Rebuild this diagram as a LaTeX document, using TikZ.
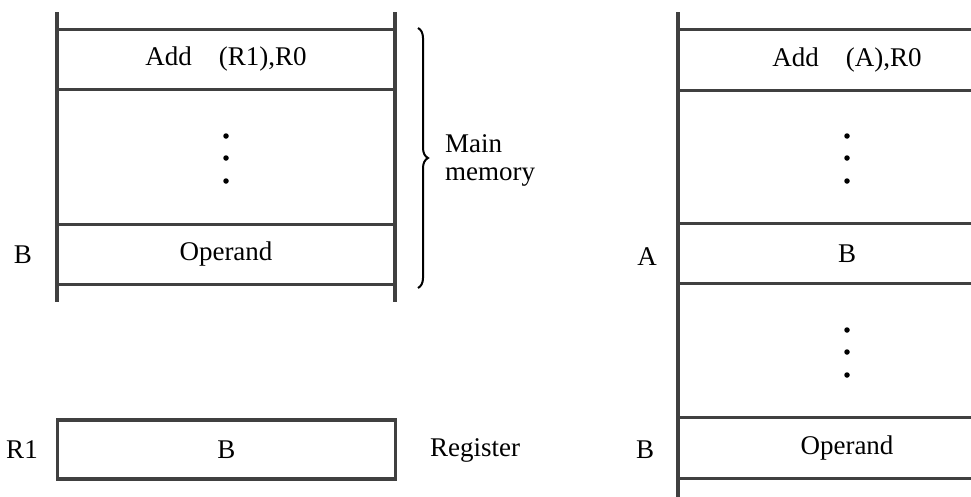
\documentclass[tikz,border=0pt]{standalone}
\usepackage{fontspec}
\setmainfont{Liberation Serif}
\usetikzlibrary{positioning, decorations.pathreplacing}

\begin{document}
\begin{tikzpicture}[x=1pt, y=-1pt,
    wall/.style={line width=3.2pt, black!75},
    cell/.style={minimum width=338pt, inner sep=0pt,
                 font=\fontsize{27}{30}\selectfont},
    lbl/.style={font=\fontsize{27}{28}\selectfont, inner sep=0pt},
    dot/.style={circle, fill=black, inner sep=0pt, minimum size=5.5pt}
  ]
    \useasboundingbox (0,0) rectangle (971,496);

    % Left memory (through register R1)
    \node[cell, minimum height=59pt]  (linstr) at (226,59.5)  {Add\quad (R1),R0};
    \node[cell, minimum height=136pt] (lgap)   at (226,157)   {};
    \node[cell, minimum height=59pt]  (lopnd)  at (226,254.5) {Operand};
    \draw[wall] (57,12) -- (57,302);
    \draw[wall] (395,12) -- (395,302);
    \draw[wall] (linstr.north west) -- (linstr.north east);
    \draw[wall] (linstr.south west) -- (linstr.south east);
    \draw[wall] (lopnd.north west) -- (lopnd.north east);
    \draw[wall] (lopnd.south west) -- (lopnd.south east);
    \foreach \y [count=\i] in {136,158,181}
      \node[dot] (ldot\i) at (226,\y) {};
    \node[lbl] (laddrB) at (23,255) {B};

    % Main memory brace
    \coordinate (btop) at (418,28);
    \coordinate (bbot) at (418,288);
    \draw[decorate, decoration={brace, amplitude=10pt}, line width=2pt]
      (btop) -- (bbot);
    \node[lbl, anchor=west, align=left] (mainmem) at (445,160) {Main\\memory};

    % Register R1
    \node[cell, draw, wall, text=black, minimum height=59pt] (reg) at (226.5,449.5) {B};
    \node[lbl] (regname) at (22,450) {R1};
    \node[lbl, anchor=west] (reglbl) at (430,450) {Register};

    % Right memory (through memory location A)
    \node[cell, minimum height=60pt]  (rinstr) at (847,60)    {Add\quad (A),R0};
    \node[cell, minimum height=134pt] (rgapa)  at (847,157)   {};
    \node[cell, minimum height=59pt]  (rptr)   at (847,253.5) {B};
    \node[cell, minimum height=135pt] (rgapb)  at (847,350.5) {};
    \node[cell, minimum height=60pt]  (ropnd)  at (847,448)   {Operand};
    \draw[wall] (678,12) -- (678,500);
    \draw[wall] (1016,12) -- (1016,500);
    \draw[wall] (rinstr.north west) -- (rinstr.north east);
    \draw[wall] (rinstr.south west) -- (rinstr.south east);
    \draw[wall] (rptr.north west) -- (rptr.north east);
    \draw[wall] (rptr.south west) -- (rptr.south east);
    \draw[wall] (ropnd.north west) -- (ropnd.north east);
    \draw[wall] (ropnd.south west) -- (ropnd.south east);
    \foreach \y [count=\i] in {136,158,181}
      \node[dot] (rdota\i) at (847,\y) {};
    \foreach \y [count=\i] in {330,352,375}
      \node[dot] (rdotb\i) at (847,\y) {};
    \node[lbl] (raddrA) at (647,257) {A};
    \node[lbl] (raddrB) at (645,450) {B};
\end{tikzpicture}
\end{document}
